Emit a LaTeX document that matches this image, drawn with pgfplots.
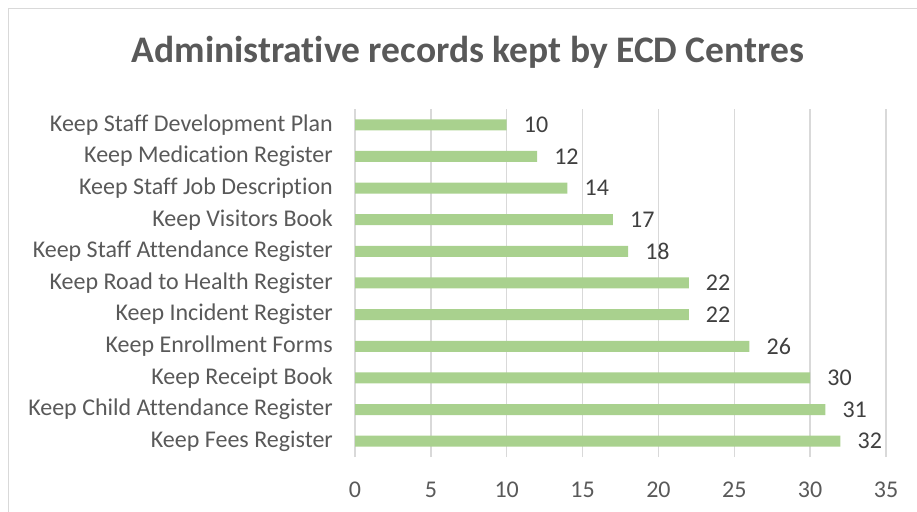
\documentclass[border=0pt]{standalone}
\usepackage{fontspec}
\setmainfont{Carlito}[Ligatures={NoCommon}]
\usepackage{pgfplots}
\pgfplotsset{compat=1.18}
\definecolor{barg}{HTML}{A9D18E}
\definecolor{txt}{HTML}{595959}
\definecolor{txtb}{HTML}{404040}
\definecolor{grd}{HTML}{D9D9D9}
\begin{document}
\begin{tikzpicture}
\path[use as bounding box] (0,0) rectangle (917pt,511pt);
\draw[grd, line width=1pt] (8pt,-10pt) -- (8pt,502pt) -- (930pt,502pt);
\node[font=\fontsize{37.5}{44}\selectfont\bfseries, text=txt] at (468pt,459pt) {Administrative records kept by ECD Centres};
\begin{axis}[
 at={(355pt,54pt)}, anchor=south west,
 scale only axis, width=531pt, height=348pt,
 xmin=0, xmax=35, ymin=-0.5, ymax=10.5,
 xtick={0,5,...,35}, ytick={0,...,10},
 yticklabels={Keep Fees Register, Keep Child Attendance Register, Keep Receipt Book, Keep Enrollment Forms, Keep Incident Register, Keep Road to Health Register, Keep Staff Attendance Register, Keep Visitors Book, Keep Staff Job Description, Keep Medication Register, Keep Staff Development Plan},
 axis line style={draw=none},
 major tick length=0pt,
 xmajorgrids, major grid style={grd, line width=1.5pt},
 xbar, bar width=11pt, bar shift=0pt,
 /pgf/number format/assume math mode=true,
 tick label style={font=\fontsize{24}{28}\selectfont, text=txt},
 xticklabel style={anchor=north, inner sep=0pt, yshift=-25pt},
 yticklabel style={anchor=east, inner sep=0pt, xshift=-22pt},
 nodes near coords,
 every node near coord/.append style={font=\fontsize{24}{28}\selectfont, text=txtb, anchor=west, inner sep=0pt, xshift=17pt},
]
\addplot[fill=barg, draw=none] coordinates {(32,0) (31,1) (30,2) (26,3) (22,4) (22,5) (18,6) (17,7) (14,8) (12,9) (10,10)};
\end{axis}
\end{tikzpicture}
\end{document}
